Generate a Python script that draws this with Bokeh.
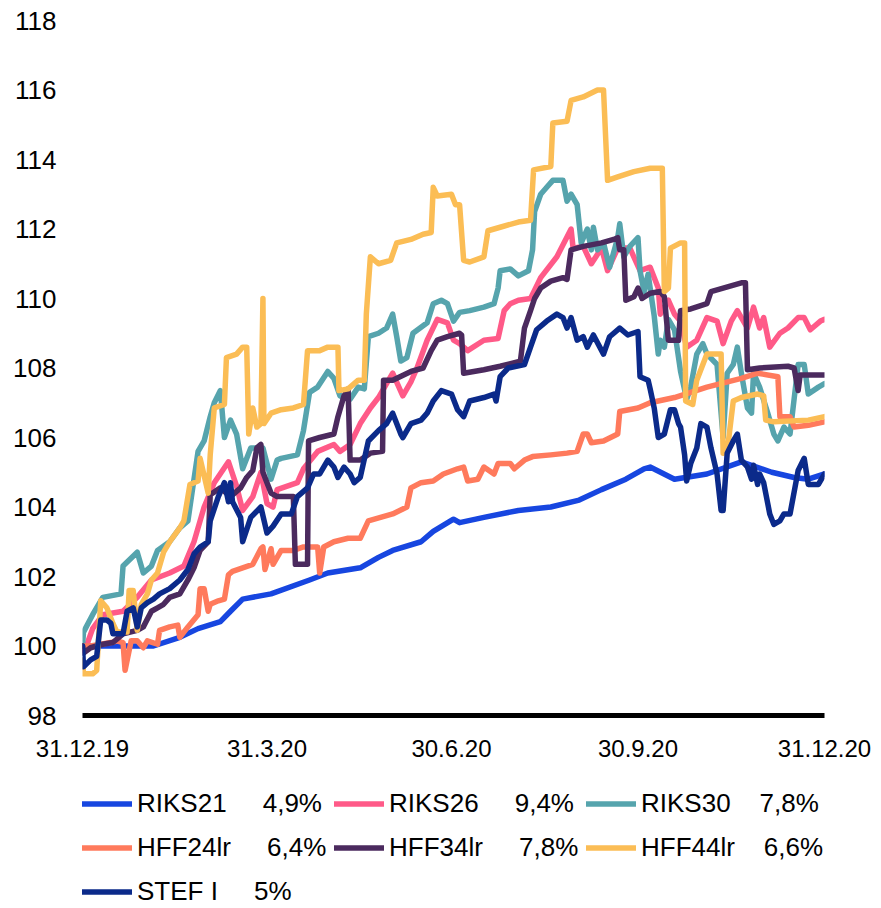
import pandas as pd
from bokeh.plotting import figure
from bokeh.layouts import column
from bokeh.models import Range1d, FixedTicker, Legend, LegendItem
from bokeh.embed import file_html
from bokeh.resources import INLINE

START = pd.Timestamp("2019-12-31")
END = pd.Timestamp("2020-12-31")

tick_dates = ["2019-12-31", "2020-03-31", "2020-06-30", "2020-09-30", "2020-12-31"]
tick_labels = ["31.12.19", "31.3.20", "30.6.20", "30.9.20", "31.12.20"]
y_ticks = [98, 100, 102, 104, 106, 108, 110, 112, 114, 116, 118]

names = ["RIKS21", "RIKS26", "RIKS30", "HFF24lr", "HFF34lr", "HFF44lr", "STEF I"]
yields = ["4,9%", "9,4%", "7,8%", "6,4%", "7,8%", "6,6%", "5%"]
gaps = [5, 5, 4, 5, 5, 4, 5]
colors = ["#1746e0", "#ff5a88", "#56a4ad", "#ff7a5c", "#4b2a5e", "#fbbd55", "#0b2a8a"]

# day offsets from 31.12.19 and index values
riks21_days = [0, 35, 48, 57, 68, 73, 79, 93, 112, 121, 137, 146, 153, 167, 173, 183, 186, 198, 215, 231, 245, 256, 268, 277, 280, 292, 308, 325, 340, 351, 358, 366]
riks21_vals = [100.0, 100.0, 100.25, 100.5, 100.7, 101.0, 101.35, 101.5, 101.9, 102.1, 102.25, 102.55, 102.75, 103.0, 103.3, 103.65, 103.55, 103.7, 103.9, 104.0, 104.2, 104.5, 104.8, 105.1, 105.15, 104.8, 104.95, 105.3, 105.0, 104.85, 104.8, 104.95]

riks26_days = [0, 1, 5, 10, 20, 27, 34, 43, 50, 55, 60, 65, 72, 76, 79, 84, 88, 91, 94, 96, 106, 109, 116, 124, 127, 132, 137, 142, 146, 150, 153, 158, 162, 165, 170, 175, 180, 183, 186, 190, 198, 205, 208, 211, 215, 221, 226, 234, 241, 242, 247, 251, 256, 259, 264, 270, 275, 280, 284, 285, 289, 292, 295, 298, 303, 308, 313, 316, 320, 323, 328, 331, 334, 336, 339, 344, 348, 353, 356, 359, 364, 366]
riks26_vals = [100.0, 99.85, 100.5, 100.9, 101.0, 101.4, 101.9, 102.1, 102.3, 103.0, 104.0, 104.7, 105.3, 104.6, 103.9, 104.3, 105.0, 104.1, 104.0, 104.5, 104.7, 105.1, 105.6, 105.8, 105.6, 105.8, 106.4, 106.85, 107.15, 107.55, 107.85, 107.2, 107.6, 108.0, 108.8, 109.4, 109.3, 108.8, 108.7, 108.5, 108.8, 108.85, 109.65, 109.85, 109.95, 110.0, 110.6, 111.2, 112.0, 111.45, 111.5, 111.0, 111.45, 110.8, 111.45, 111.45, 110.8, 110.9, 110.3, 109.55, 109.95, 109.55, 109.35, 108.6, 108.8, 109.45, 109.35, 108.7, 109.35, 109.65, 109.15, 109.75, 109.15, 109.45, 108.6, 109.0, 109.15, 109.45, 109.45, 109.1, 109.35, 109.4]

riks30_days = [0, 0.5, 5, 10, 19, 20, 27, 30, 34, 37, 43, 48, 52, 57, 60, 63, 65, 68, 70, 73, 76, 79, 83, 89, 93, 96, 98, 106, 109, 112, 116, 121, 124, 127, 132, 136, 139, 141, 146, 150, 153, 155, 157, 160, 163, 170, 173, 177, 180, 183, 186, 191, 198, 203, 205, 206, 211, 215, 220, 222, 223, 226, 229, 232, 237, 239, 241, 244, 246, 249, 251, 252, 254, 257, 260, 264, 265, 267, 270, 274, 275, 277, 279, 282, 284, 285, 287, 289, 292, 295, 298, 300, 303, 306, 308, 313, 316, 318, 321, 323, 325, 328, 330, 331, 334, 338, 341, 343, 346, 349, 353, 356, 358, 363, 366]
riks30_vals = [100.0, 100.4, 100.9, 101.4, 101.5, 102.3, 102.7, 102.1, 102.3, 102.75, 103.0, 103.4, 103.6, 105.6, 105.9, 106.6, 107.0, 107.35, 106.0, 106.5, 106.1, 105.1, 105.7, 105.7, 104.8, 105.35, 105.4, 105.5, 106.2, 107.3, 107.45, 107.9, 107.7, 107.2, 107.1, 107.45, 107.4, 108.9, 109.0, 109.15, 109.55, 108.9, 108.2, 108.3, 109.0, 109.3, 109.85, 109.95, 109.85, 109.35, 109.6, 109.65, 109.75, 109.85, 110.3, 110.8, 110.85, 110.65, 110.8, 111.4, 112.5, 113.0, 113.2, 113.4, 113.4, 112.8, 113.0, 112.7, 111.6, 112.0, 111.4, 112.05, 111.4, 111.6, 110.9, 111.75, 112.15, 111.2, 111.5, 111.75, 110.8, 110.2, 110.7, 109.5, 108.4, 108.8, 108.6, 109.4, 109.1, 107.9, 107.1, 107.45, 108.4, 108.7, 108.4, 108.1, 106.0, 107.85, 108.1, 108.6, 107.85, 106.85, 106.7, 107.85, 107.45, 106.7, 106.1, 105.9, 106.3, 106.1, 108.1, 108.1, 107.25, 107.45, 107.55]

hff24_days = [0, 4, 14, 17, 20, 21, 24, 27, 30, 32, 37, 38, 43, 47, 48, 52, 57, 58, 60, 62, 63, 67, 70, 72, 74, 79, 84, 88, 89, 90, 93, 94, 98, 104, 109, 116, 117, 119, 124, 131, 137, 141, 147, 153, 160, 162, 167, 173, 178, 185, 188, 190, 195, 198, 203, 205, 211, 213, 218, 222, 231, 239, 244, 247, 249, 251, 257, 264, 265, 274, 280, 292, 308, 325, 333, 343, 344, 349, 351, 358, 366]
hff24_vals = [100.0, 100.0, 100.1, 100.15, 100.1, 99.3, 100.15, 100.15, 99.95, 100.15, 100.05, 100.45, 100.55, 100.6, 100.25, 100.55, 100.9, 101.65, 101.65, 101.0, 101.2, 101.3, 101.35, 102.05, 102.15, 102.25, 102.35, 102.8, 102.85, 102.2, 102.8, 102.35, 102.75, 102.75, 102.85, 102.85, 102.1, 102.85, 103.0, 103.1, 103.1, 103.6, 103.7, 103.8, 104.0, 104.55, 104.7, 104.75, 104.95, 105.1, 105.15, 104.75, 104.8, 105.15, 104.95, 105.25, 105.25, 105.1, 105.35, 105.45, 105.5, 105.55, 105.6, 106.1, 106.1, 105.85, 105.9, 106.1, 106.75, 106.85, 107.0, 107.15, 107.45, 107.7, 107.85, 107.75, 106.6, 106.6, 106.3, 106.35, 106.45]

hff34_days = [0, 0.5, 4, 10, 15, 20, 27, 30, 34, 37, 40, 43, 48, 52, 55, 58, 62, 63, 68, 73, 78, 81, 84, 86, 88, 89, 91, 93, 96, 104, 105, 111, 111.5, 117, 124, 126, 129, 131, 132, 137, 142, 148, 148.5, 153, 162, 168, 172, 175, 180, 186, 187, 188, 198, 206, 216, 218, 221, 223, 226, 231, 237, 239, 241, 247, 256, 262, 264, 265, 267, 268, 272, 274, 276, 280, 285, 287, 289, 294, 295, 300, 308, 310, 316, 325, 327, 328, 334, 348, 351, 353, 354, 366]
hff34_vals = [100.0, 99.8, 99.95, 100.05, 100.1, 100.35, 100.45, 100.55, 101.0, 101.1, 101.2, 101.4, 101.5, 101.9, 102.25, 102.75, 103.0, 104.35, 104.55, 104.3, 104.55, 104.85, 105.05, 105.7, 105.8, 105.0, 104.7, 104.4, 104.3, 104.3, 102.35, 102.35, 105.9, 106.0, 106.1, 106.6, 107.2, 107.4, 105.35, 105.35, 105.55, 105.6, 107.65, 107.65, 107.9, 108.0, 108.5, 108.8, 108.9, 109.0, 108.95, 107.85, 107.95, 108.05, 108.2, 109.15, 109.65, 110.0, 110.3, 110.5, 110.6, 110.55, 111.4, 111.5, 111.6, 111.7, 111.75, 111.4, 111.4, 109.95, 110.05, 110.3, 110.0, 110.15, 110.2, 110.05, 108.8, 108.8, 109.65, 109.7, 109.85, 110.2, 110.3, 110.45, 110.45, 107.95, 108.0, 108.05, 108.0, 107.35, 107.8, 107.8]

hff44_days = [0, 0.5, 5, 7, 9, 12, 15, 17, 22, 23, 25, 27, 29, 32, 34, 37, 40, 43, 48, 50, 53, 57, 58, 60, 62, 63, 65, 70, 71, 76, 79, 81, 82, 84, 86, 88, 89, 89.5, 93, 98, 104, 109, 111, 117, 121, 126, 126.5, 131, 136, 139, 140, 142, 146, 152, 155, 162, 168, 172, 173, 175, 182, 184, 186, 188, 191, 198, 200, 206, 215, 221, 222.5, 231, 232, 239, 241, 247, 254, 257, 259, 264, 272, 280, 286, 287, 289, 290, 295, 297, 297.5, 301, 303, 308, 315, 316, 318, 321, 325, 333, 336, 337, 341, 358, 366]
hff44_vals = [99.6, 99.2, 99.2, 99.3, 101.3, 101.1, 100.65, 100.4, 100.4, 101.6, 101.6, 100.45, 101.2, 101.5, 101.9, 102.1, 102.7, 103.0, 103.4, 103.6, 104.65, 104.75, 105.4, 104.9, 104.4, 105.5, 106.85, 106.95, 108.3, 108.4, 108.6, 108.6, 106.1, 106.85, 106.3, 106.4, 110.0, 106.4, 106.7, 106.8, 106.85, 106.95, 108.5, 108.5, 108.6, 108.6, 107.35, 107.4, 107.65, 107.65, 109.55, 111.2, 111.0, 111.1, 111.6, 111.7, 111.85, 111.9, 113.2, 112.95, 113.0, 112.7, 112.7, 111.1, 111.05, 111.2, 111.95, 112.05, 112.2, 112.25, 113.7, 113.8, 115.05, 115.1, 115.7, 115.8, 116.0, 116.0, 113.4, 113.5, 113.65, 113.75, 113.75, 110.2, 110.3, 111.45, 111.6, 111.6, 107.05, 106.95, 107.65, 108.4, 108.4, 105.55, 105.6, 107.05, 107.15, 107.25, 107.2, 106.5, 106.45, 106.5, 106.6]

stef_days = [0, 0.5, 4, 7, 9, 12, 14, 15, 20, 22, 25, 27, 29, 32, 35, 38, 43, 48, 52, 55, 58, 62, 63, 67, 70, 72, 73, 74, 78, 79, 83, 88, 91, 94, 98, 103, 106, 111, 114, 117, 121, 124, 126, 129, 132, 134, 137, 141, 146, 150, 153, 157, 158, 162, 167, 170, 173, 177, 182, 185, 188, 191, 198, 203, 204, 206, 210, 218, 221, 224, 229, 234, 237, 239, 241, 244, 247, 249, 252, 257, 260, 265, 269, 274, 275, 279, 280, 282, 284, 287, 290, 292, 294, 295, 297, 298, 300, 303, 305, 308, 310, 313, 315, 316, 318, 321, 323, 325, 328, 330, 331, 333, 334, 336, 338, 339, 341, 344, 346, 349, 353, 356, 358, 363, 366]
stef_vals = [100.0, 99.4, 99.6, 99.7, 100.75, 100.75, 100.65, 100.35, 100.35, 101.0, 101.1, 100.55, 101.1, 101.25, 101.35, 101.5, 101.65, 101.9, 102.2, 102.65, 102.85, 103.0, 103.6, 104.3, 104.7, 104.15, 104.7, 104.15, 103.7, 103.0, 103.7, 104.0, 103.25, 103.45, 103.8, 103.8, 104.3, 104.55, 104.95, 104.95, 105.35, 105.15, 104.85, 105.15, 104.95, 104.7, 104.85, 105.9, 106.2, 106.4, 106.7, 106.1, 106.0, 106.4, 106.5, 106.7, 107.05, 107.35, 107.25, 106.8, 106.6, 107.05, 107.15, 107.25, 107.05, 107.75, 108.0, 108.1, 108.6, 109.1, 109.35, 109.55, 109.45, 109.15, 109.45, 108.8, 108.9, 108.6, 108.95, 108.4, 108.9, 109.15, 108.95, 109.05, 107.75, 107.65, 107.4, 106.85, 106.0, 106.1, 106.8, 106.8, 106.4, 106.3, 105.5, 104.75, 105.25, 105.7, 106.4, 106.3, 105.7, 104.95, 103.9, 103.9, 105.55, 105.9, 106.1, 105.35, 105.15, 104.8, 105.2, 104.65, 104.95, 104.7, 104.1, 103.8, 103.5, 103.6, 103.8, 103.8, 105.05, 105.4, 104.65, 104.65, 104.95]

series_days = [riks21_days, riks26_days, riks30_days, hff24_days, hff34_days, hff44_days, stef_days]
series_vals = [riks21_vals, riks26_vals, riks30_vals, hff24_vals, hff34_vals, hff44_vals, stef_vals]

FONT = "Liberation Sans"
LW = 5.5

# ---- main chart ----
p = figure(width=881, height=771, x_axis_type="datetime", output_backend="svg",
           toolbar_location=None, min_border_left=82, min_border_right=57,
           min_border_top=20, min_border_bottom=56)
p.x_range = Range1d(START, END)
p.y_range = Range1d(98, 118)
p.outline_line_color = None
p.xgrid.grid_line_color = None
p.ygrid.grid_line_color = None

for d, v, c in zip(series_days, series_vals, colors):
    x = START + pd.to_timedelta(d, unit="D")
    p.line(x, v, line_color=c, line_width=LW, line_join="round", line_cap="round")

tick_ms = [int(pd.Timestamp(t).value // 10**6) for t in tick_dates]
p.xaxis.ticker = FixedTicker(ticks=tick_ms)
p.xaxis.major_label_overrides = {float(t): lab for t, lab in zip(tick_ms, tick_labels)}
p.xaxis.axis_line_width = 5
p.xaxis.axis_line_color = "black"
p.xaxis.major_tick_line_color = None
p.xaxis.minor_tick_line_color = None
p.xaxis.major_tick_in = 0
p.xaxis.major_tick_out = 0
p.xaxis.major_label_standoff = 24
p.xaxis.major_label_text_font = FONT
p.xaxis.major_label_text_font_size = "24px"
p.xaxis.major_label_text_color = "black"

p.yaxis.ticker = FixedTicker(ticks=y_ticks)
p.yaxis.axis_line_color = None
p.yaxis.major_tick_line_color = None
p.yaxis.minor_tick_line_color = None
p.yaxis.major_tick_in = 0
p.yaxis.major_tick_out = 0
p.yaxis.major_label_standoff = 26
p.yaxis.major_label_text_font = FONT
p.yaxis.major_label_text_font_size = "26px"
p.yaxis.major_label_text_color = "black"

# ---- legend panel (same line styles, no visible data) ----
leg = figure(width=881, height=137, output_backend="svg", toolbar_location=None,
             x_axis_location=None, y_axis_location=None,
             min_border_left=0, min_border_right=0, min_border_top=0, min_border_bottom=0)
leg.outline_line_color = None
leg.xgrid.grid_line_color = None
leg.ygrid.grid_line_color = None
leg.x_range = Range1d(0, 1)
leg.y_range = Range1d(0, 1)

items = []
for n, y, g, c in zip(names, yields, gaps, colors):
    r = leg.line([float("nan")], [float("nan")], line_color=c, line_width=LW, line_cap="round")
    items.append(LegendItem(label=n + "\u00a0" * g + y, renderers=[r]))

legend = Legend(items=items, ncols=3, location=(0, -1.5), orientation="horizontal",
                glyph_width=50, glyph_height=37, label_height=37, label_width=190,
                label_standoff=5, spacing=7, padding=0, margin=0,
                border_line_color=None, background_fill_alpha=0,
                label_text_font=FONT, label_text_font_size="26px", label_text_color="black")
leg.add_layout(legend)

open("out.html", "w").write(file_html(column(p, leg, spacing=0), INLINE))
